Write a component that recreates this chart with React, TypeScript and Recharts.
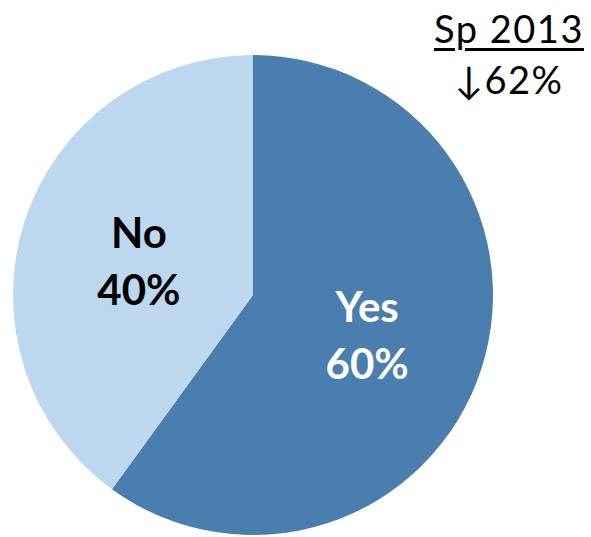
import { PieChart, Pie, Cell } from 'recharts';

const answers = ['Yes', 'No'];
const shares = [60, 40];
const sliceColors = ['#4a7eae', '#bdd7ee'];
const labelColors = ['#ffffff', '#000000'];

const data = answers.map((name, i) => ({ name, value: shares[i] }));

const RAD = Math.PI / 180;

function renderLabel(props: any) {
  const { cx, cy, midAngle, outerRadius, index, name, value } = props;
  const r = outerRadius * 0.5;
  const x = cx + r * Math.cos(-midAngle * RAD);
  const y = cy + r * Math.sin(-midAngle * RAD);
  return (
    <text
      x={x}
      y={y}
      textAnchor="middle"
      fill={labelColors[index]}
      fontFamily="Lato, 'Open Sans', sans-serif"
      fontWeight="bold"
      fontSize={42}
    >
      <tspan x={x} dy={-10}>{name}</tspan>
      <tspan x={x} dy={57}>{value}%</tspan>
    </text>
  );
}

export default function App() {
  return (
    <div style={{ position: 'absolute', left: 0, top: 0, width: 591, height: 537, background: '#fff' }}>
      <PieChart width={591} height={537} margin={{ top: 0, right: 0, bottom: 0, left: 0 }}>
        <Pie
          data={data}
          dataKey="value"
          nameKey="name"
          cx={253}
          cy={295}
          outerRadius={240}
          startAngle={90}
          endAngle={-270}
          stroke="none"
          labelLine={false}
          label={renderLabel}
          isAnimationActive={false}
        >
          {data.map((d, i) => (
            <Cell key={d.name} fill={sliceColors[i]} />
          ))}
        </Pie>
      </PieChart>
      <div
        style={{
          position: 'absolute',
          left: 418,
          top: 0,
          width: 182,
          textAlign: 'center',
          fontFamily: "Lato, 'Open Sans', sans-serif",
          fontSize: 38,
          lineHeight: '56px',
          color: '#000',
          letterSpacing: 1.5,
        }}
      >
        <div style={{ textDecoration: 'underline', textDecorationThickness: 3, textUnderlineOffset: 5 }}>Sp 2013</div>
        <div style={{ marginTop: -5 }}>↓62%</div>
      </div>
    </div>
  );
}
